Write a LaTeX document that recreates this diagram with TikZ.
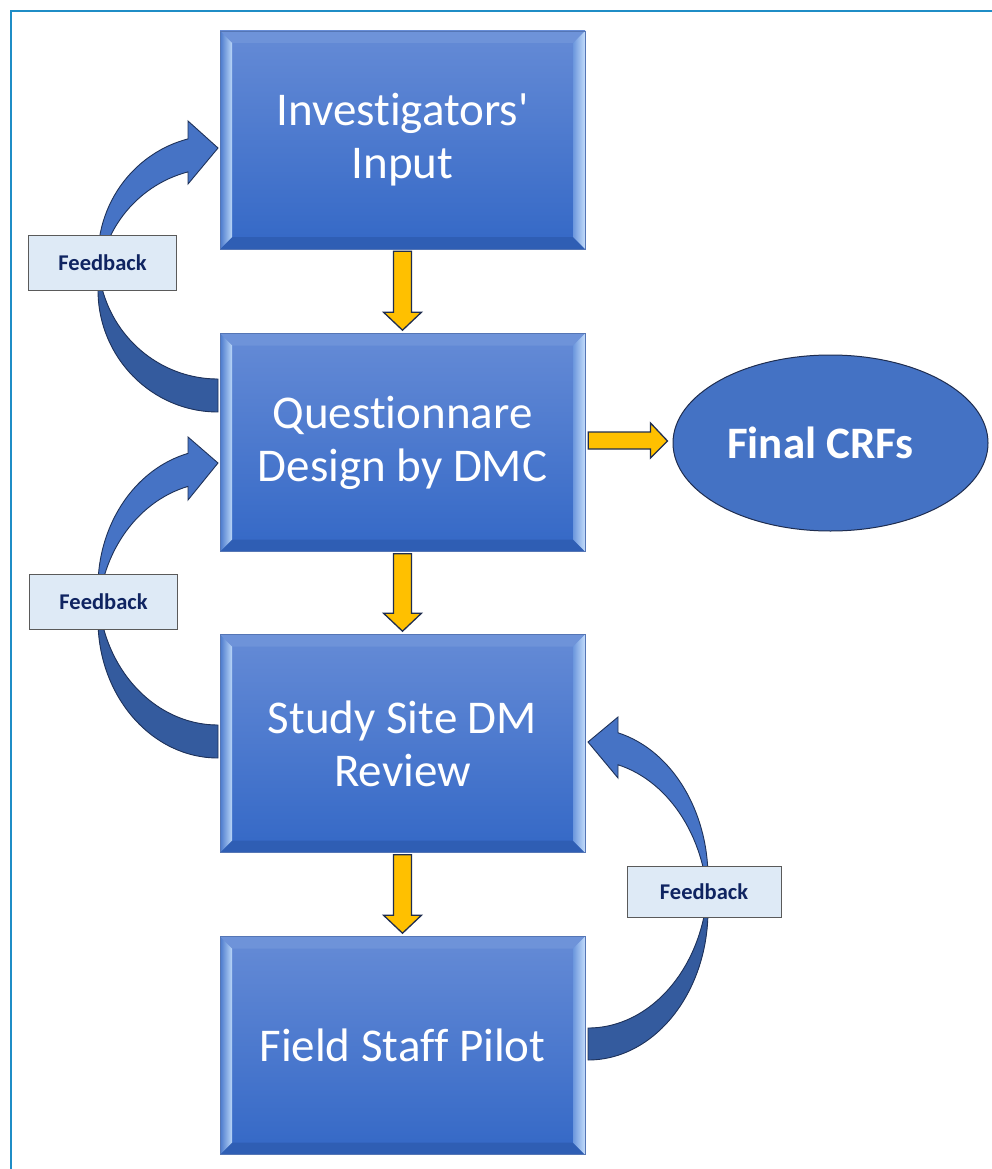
\documentclass[tikz,border=0pt]{standalone}
\usepackage{fontspec}
\setmainfont{Carlito}[Ligatures={TeXOff,NoCommon}]
\usetikzlibrary{shapes.geometric,calc}
\definecolor{framecol}{HTML}{1F8DC6}
\definecolor{boxtop}{HTML}{658BD6}
\definecolor{boxbot}{HTML}{3468C6}
\definecolor{boxedge}{HTML}{5576B5}
\definecolor{bevtop}{HTML}{6E93D9}
\definecolor{bevbot}{HTML}{2F5EB4}
\definecolor{bevLout}{HTML}{4A79CC}
\definecolor{bevLin}{HTML}{B9D6F8}
\definecolor{bevRin}{HTML}{6C97DD}
\definecolor{bevRout}{HTML}{C3DCFA}
\definecolor{arrlight}{HTML}{4673C5}
\definecolor{arrdark}{HTML}{345B9E}
\definecolor{arrline}{HTML}{1F3259}
\definecolor{fbfill}{HTML}{DEEAF6}
\definecolor{fbedge}{HTML}{5A5A5A}
\definecolor{fbtext}{HTML}{0F2461}
\definecolor{gold}{HTML}{FFC000}
\definecolor{navyline}{HTML}{1F2D4F}
\definecolor{ellfill}{HTML}{4472C4}
\definecolor{ellline}{HTML}{1F2D4F}
\begin{document}
\begin{tikzpicture}[x=1pt,y=1pt,
  frame/.style={draw=framecol,line width=2.2},
  mainbox/.style={rectangle,minimum width=365,minimum height=218,inner sep=0,
    top color=boxtop,bottom color=boxbot,draw=boxedge,line width=0.6,
    text=white,align=center,font=\fontsize{47}{53}\selectfont,
    path picture={
      \fill[bevtop] (path picture bounding box.north west) -- (path picture bounding box.north east)
        -- ([shift={(-12,-12)}]path picture bounding box.north east) -- ([shift={(12,-12)}]path picture bounding box.north west) -- cycle;
      \fill[bevbot] (path picture bounding box.south west) -- (path picture bounding box.south east)
        -- ([shift={(-12,12)}]path picture bounding box.south east) -- ([shift={(12,12)}]path picture bounding box.south west) -- cycle;
      \shade[left color=bevLout,right color=bevLin] (path picture bounding box.north west) -- ([shift={(12,-12)}]path picture bounding box.north west)
        -- ([shift={(12,12)}]path picture bounding box.south west) -- (path picture bounding box.south west) -- cycle;
      \shade[left color=bevRin,right color=bevRout] (path picture bounding box.north east) -- ([shift={(-12,-12)}]path picture bounding box.north east)
        -- ([shift={(-12,12)}]path picture bounding box.south east) -- (path picture bounding box.south east) -- cycle;
    }},
  fbbox/.style={rectangle,fill=fbfill,draw=fbedge,line width=1,minimum width=148,minimum height=55,
    inner sep=0,text=fbtext,font=\fontsize{22.5}{26}\selectfont\bfseries},
  carrow/.style={fill=arrlight,draw=arrline,line width=0.9,line join=miter},
  yarrow/.style={fill=gold,draw=navyline,line width=1.3,line join=miter}
]
\useasboundingbox (0,0) rectangle (992,-1169);
\fill[white] (0,0) rectangle (992,-1169);
\draw[frame] (11,-1169) -- (11,-11) -- (992,-11);

\coordinate (s1) at (0,-262.5);
\coordinate (s2) at (0,-602);
\coordinate (s3) at (0,-891.5);

% curved feedback arrows
\path[carrow,path picture={\fill[arrdark] (path picture bounding box.south west) rectangle (path picture bounding box.east |- s1);}]
  (188,-138.9) arc[start angle=104.48,end angle=270,x radius=120,y radius=122]
  -- (218,-412) arc[start angle=270,end angle=104.48,x radius=120,y radius=122]
  -- (188,-184) -- (218,-148) -- (188,-121) -- cycle;
\path[carrow,path picture={\fill[arrdark] (path picture bounding box.south west) rectangle (path picture bounding box.east |- s2);}]
  (188,-453.4) arc[start angle=104.48,end angle=270,x radius=120,y radius=138]
  -- (218,-758) arc[start angle=270,end angle=104.48,x radius=120,y radius=138]
  -- (188,-500) -- (218,-463) -- (188,-437) -- cycle;
\path[carrow,path picture={\fill[arrdark] (path picture bounding box.south west) rectangle (path picture bounding box.east |- s3);}]
  (618,-732.8) arc[start angle=75.52,end angle=-90,x radius=120,y radius=150]
  -- (588,-1060) arc[start angle=-90,end angle=75.52,x radius=120,y radius=150]
  -- (618,-778) -- (588,-742) -- (618,-717) -- cycle;

% feedback labels
\node[fbbox] (fb1) at (102.5,-262.5) {Feedback};
\node[fbbox] (fb2) at (103.5,-602) {Feedback};
\node[fbbox,minimum width=154,minimum height=51] (fb3) at (704,-891.5) {Feedback};

% main boxes
\node[mainbox] (b1) at (402.5,-140) {Investigators'\\Input};
\node[mainbox] (b2) at (402.5,-442.5) {Questionnare\\Design by DMC};
\node[mainbox] (b3) at (402.5,-743.5) {Study Site DM\\Review};
\node[mainbox] (b4) at (402.5,-1045.5) {Field Staff Pilot};

% final ellipse
\node[ellipse,draw=ellline,fill=ellfill,line width=1,minimum width=315,minimum height=176,inner sep=0,
  text=white,font=\fontsize{45}{54}\selectfont\bfseries] (crf) at (830.5,-443) {Final CRFs\kern20pt};

% yellow block arrows
\foreach \a/\b in {b1/b2,b2/b3,b3/b4}{
  \draw[yarrow] let \p1=(\a.south), \p2=(\b.north) in
    (\x1-9,\y1-2) -- (\x1-9,\y2+21) -- (\x1-19,\y2+21) -- (\x1,\y2+3) -- (\x1+19,\y2+21)
    -- (\x1+9,\y2+21) -- (\x1+9,\y1-2) -- cycle;
}
\draw[yarrow] let \p1=(b2.east), \p2=(crf.west) in
  (\x1+3,\y1+10.5) -- (\x2-22,\y1+10.5) -- (\x2-22,\y1+19.5) -- (\x2-5,\y1+1.5) -- (\x2-22,\y1-15.5)
  -- (\x2-22,\y1-6.5) -- (\x1+3,\y1-6.5) -- cycle;
\end{tikzpicture}
\end{document}
